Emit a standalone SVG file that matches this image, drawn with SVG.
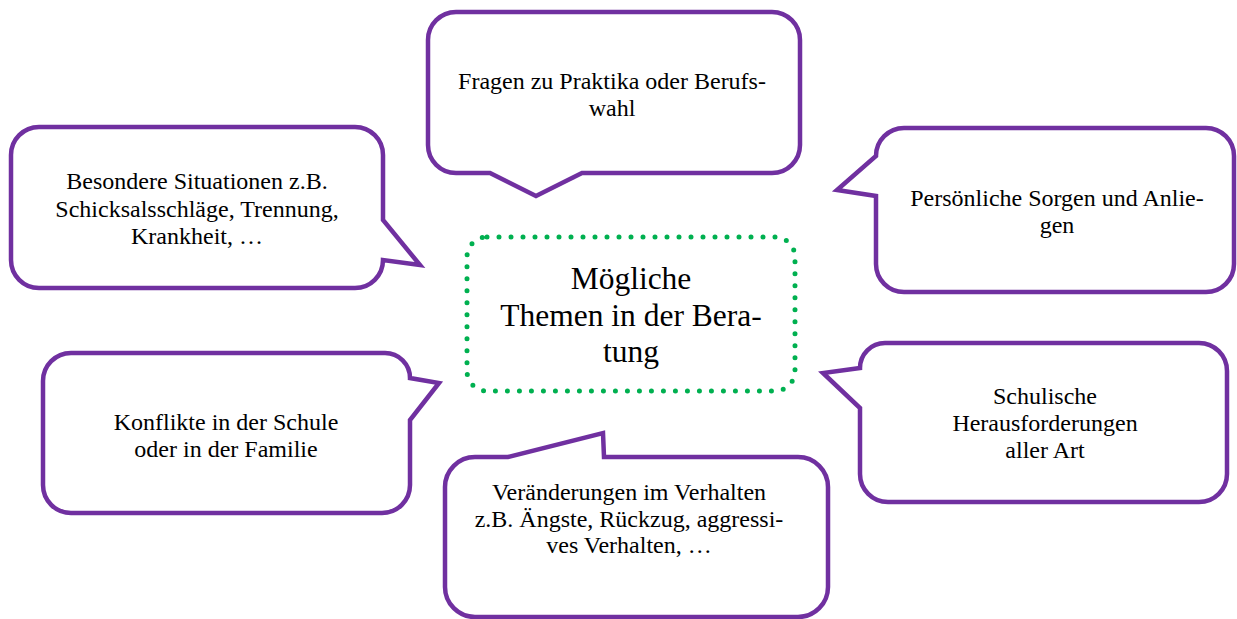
<svg xmlns="http://www.w3.org/2000/svg" width="1237" height="619" viewBox="0 0 1237 619">
<style>
.callout{fill:#fff;stroke:#7030A0;stroke-width:4.5;stroke-linejoin:miter}
.center{fill:#fff;stroke:#00B050;stroke-width:5;stroke-dasharray:0 12;stroke-linecap:round}
.t{font-family:"Liberation Serif","Times New Roman",serif;font-size:24px;fill:#000;text-anchor:middle}
.tc{font-family:"Liberation Serif","Times New Roman",serif;font-size:31.5px;fill:#000;text-anchor:middle}
</style>
<rect width="1237" height="619" fill="#fff"/>
<g id="connectors"></g>
<g id="node-besondere">
<path class="callout" d="M39,127 H355 A28 28 0 0 1 383,155 V220 L420,265 L383,260 A28 28 0 0 1 355,288 H39 A28 28 0 0 1 11,260 V155 A28 28 0 0 1 39,127 Z"/>
<text class="t" x="197" y="189">Besondere Situationen z.B.</text>
<text class="t" x="197" y="216.5">Schicksalsschläge, Trennung,</text>
<text class="t" x="197" y="244">Krankheit, …</text>
</g>
<g id="node-fragen">
<path class="callout" d="M456,12 H772 A28 28 0 0 1 800,40 V145 A28 28 0 0 1 772,173 H582 L536,196 L490,173 H456 A28 28 0 0 1 428,145 V40 A28 28 0 0 1 456,12 Z"/>
<text class="t" x="612" y="89">Fragen zu Praktika oder Berufs-</text>
<text class="t" x="612" y="116">wahl</text>
</g>
<g id="node-persoenlich">
<path class="callout" d="M904,128 H1206 A28 28 0 0 1 1234,156 V264 A28 28 0 0 1 1206,292 H904 A28 28 0 0 1 876,264 V196 L837,190 L876,156 A28 28 0 0 1 904,128 Z"/>
<text class="t" x="1057" y="206">Persönliche Sorgen und Anlie-</text>
<text class="t" x="1057" y="233">gen</text>
</g>
<g id="node-konflikte">
<path class="callout" d="M71,353 H385 A25 25 0 0 1 410,378 L439,383 L410,420 V485 A28 28 0 0 1 382,513 H71 A28 28 0 0 1 43,485 V381 A28 28 0 0 1 71,353 Z"/>
<text class="t" x="226" y="430">Konflikte in der Schule</text>
<text class="t" x="226" y="457">oder in der Familie</text>
</g>
<g id="node-veraenderungen">
<path class="callout" d="M475,457 H508 L603,433 L604,457 H798 A30 30 0 0 1 828,487 V587 A30 30 0 0 1 798,617 H475 A30 30 0 0 1 445,587 V487 A30 30 0 0 1 475,457 Z"/>
<text class="t" x="629" y="500">Veränderungen im Verhalten</text>
<text class="t" x="629" y="527">z.B. Ängste, Rückzug, aggressi-</text>
<text class="t" x="629" y="553">ves Verhalten, …</text>
</g>
<g id="node-schulisch">
<path class="callout" d="M885,343 H1199 A28 28 0 0 1 1227,371 V474 A28 28 0 0 1 1199,502 H888 A28 28 0 0 1 860,474 V408 L823,373 L860,368 A25 25 0 0 1 885,343 Z"/>
<text class="t" x="1045" y="404">Schulische</text>
<text class="t" x="1045" y="431">Herausforderungen</text>
<text class="t" x="1045" y="458">aller Art</text>
</g>
<g id="node-center">
<rect class="center" x="467" y="237" width="328" height="154" rx="20" ry="20"/>
<text class="tc" x="631" y="289">Mögliche</text>
<text class="tc" x="631" y="326">Themen in der Bera-</text>
<text class="tc" x="631" y="362">tung</text>
</g>
</svg>
